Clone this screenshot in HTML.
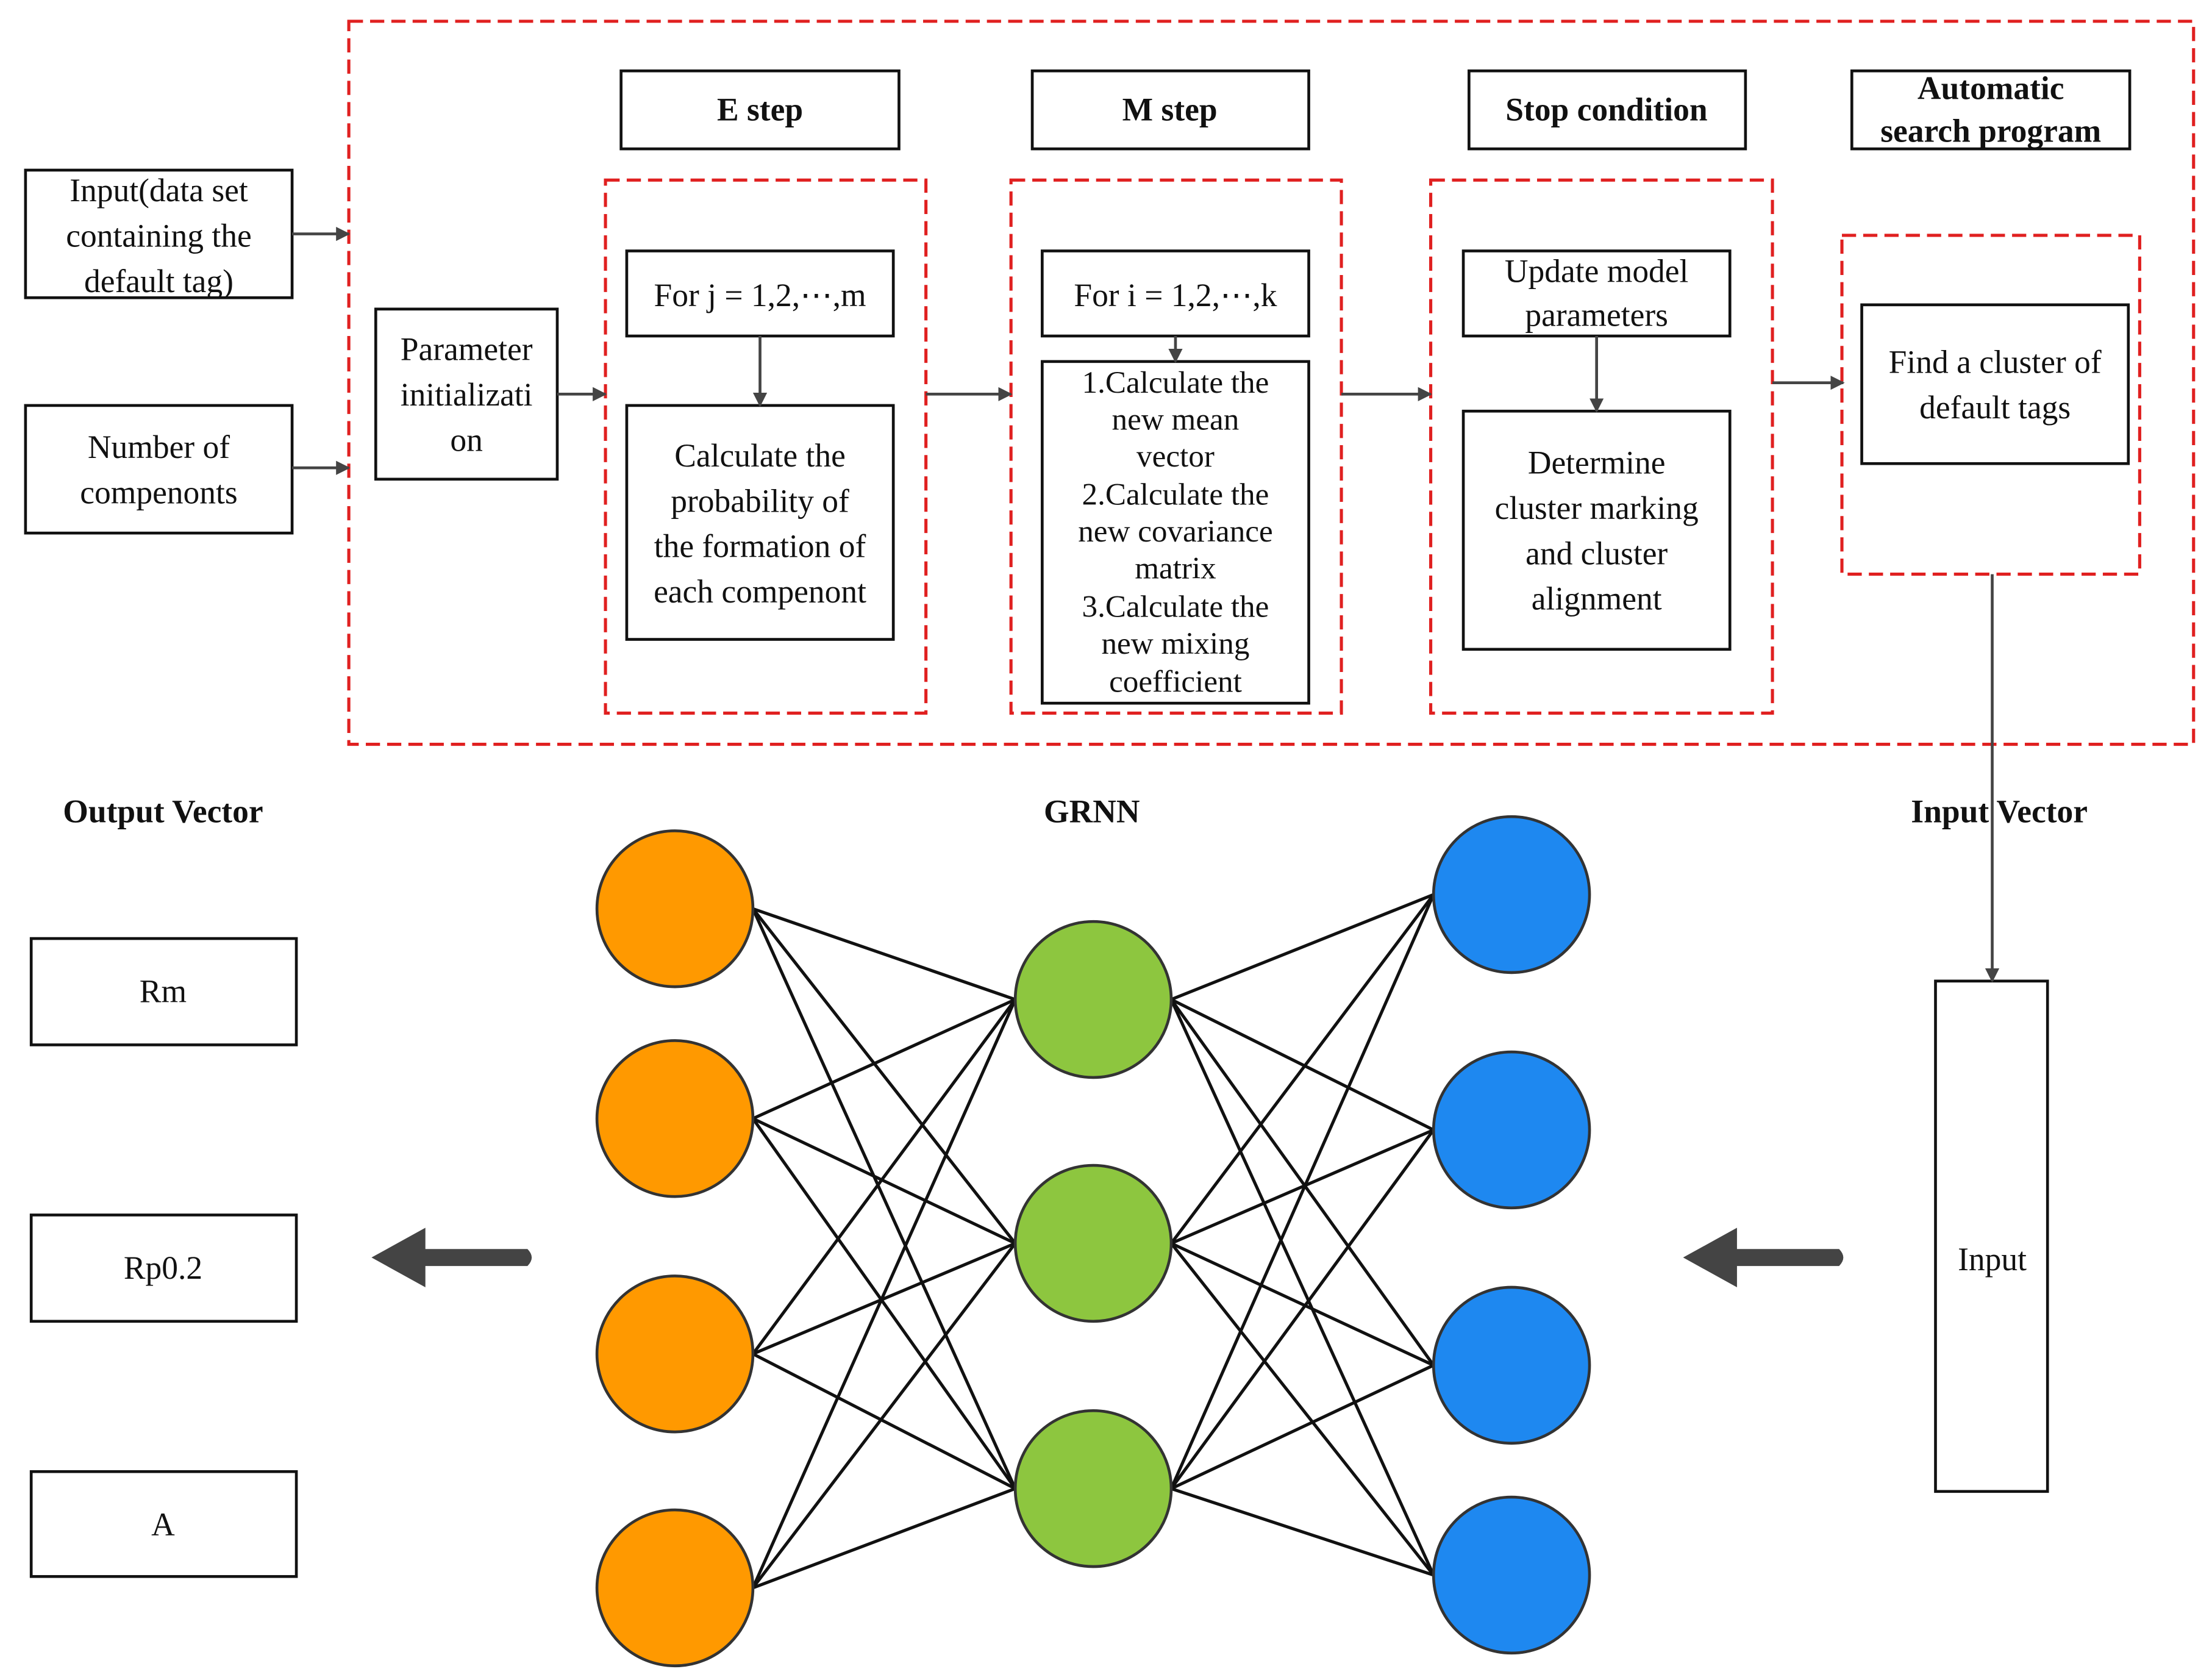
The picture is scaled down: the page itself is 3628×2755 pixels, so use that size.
<!DOCTYPE html>
<html><head><meta charset="utf-8"><style>html,body{margin:0;padding:0;background:#fff}svg{display:block}</style></head><body>
<svg width="3628" height="2755" viewBox="0 0 1560 1185" preserveAspectRatio="none" xmlns="http://www.w3.org/2000/svg" font-family="'Liberation Serif', serif">
<defs><marker id="a" markerWidth="10" markerHeight="10" refX="9" refY="5" orient="auto" markerUnits="userSpaceOnUse"><path d="M0,0 L10,5 L0,10 z" fill="#444"/></marker></defs>
<g fill="none" stroke="#e02020" stroke-width="2.2" stroke-dasharray="10,5">
<rect x="246" y="15" width="1301" height="510"/>
<rect x="427" y="127" width="226" height="376"/>
<rect x="713" y="127" width="233" height="376"/>
<rect x="1009" y="127" width="241" height="376"/>
<rect x="1299" y="166" width="210" height="239"/>
</g>
<g fill="#fff" stroke="#111" stroke-width="2">
<rect x="18" y="120" width="188" height="90"/>
<rect x="18" y="286" width="188" height="90"/>
<rect x="265" y="218" width="128" height="120"/>
<rect x="438" y="50" width="196" height="55"/>
<rect x="728" y="50" width="195" height="55"/>
<rect x="1036" y="50" width="195" height="55"/>
<rect x="1306" y="50" width="196" height="55"/>
<rect x="442" y="177" width="188" height="60"/>
<rect x="442" y="286" width="188" height="165"/>
<rect x="735" y="177" width="188" height="60"/>
<rect x="735" y="255" width="188" height="241"/>
<rect x="1032" y="177" width="188" height="60"/>
<rect x="1032" y="290" width="188" height="168"/>
<rect x="1313" y="215" width="188" height="112"/>
<rect x="1365" y="692" width="79" height="360"/>
<rect x="22" y="662" width="187" height="75"/>
<rect x="22" y="857" width="187" height="75"/>
<rect x="22" y="1038" width="187" height="74"/>
</g>
<g stroke="#444" stroke-width="2" marker-end="url(#a)">
<line x1="206" y1="165" x2="246" y2="165"/>
<line x1="206" y1="330" x2="246" y2="330"/>
<line x1="393" y1="278" x2="427" y2="278"/>
<line x1="536" y1="237" x2="536" y2="286"/>
<line x1="653" y1="278" x2="713" y2="278"/>
<line x1="829" y1="237" x2="829" y2="255"/>
<line x1="946" y1="278" x2="1009" y2="278"/>
<line x1="1126" y1="237" x2="1126" y2="290"/>
<line x1="1250" y1="270" x2="1300" y2="270"/>
<line x1="1405" y1="405" x2="1405" y2="692"/>
</g>
<g fill="#444"><path d="M372,881 L300,881 L300,866 L262,887 L300,908 L300,893 L372,893 Q378,887 372,881z"/>
<path d="M1297,881 L1225,881 L1225,866 L1187,887 L1225,908 L1225,893 L1297,893 Q1303,887 1297,881z"/></g>
<g stroke="#111" stroke-width="2.2">
<line x1="531" y1="641" x2="716" y2="705"/><line x1="531" y1="641" x2="716" y2="877"/><line x1="531" y1="641" x2="716" y2="1050"/>
<line x1="531" y1="789" x2="716" y2="705"/><line x1="531" y1="789" x2="716" y2="877"/><line x1="531" y1="789" x2="716" y2="1050"/>
<line x1="531" y1="955" x2="716" y2="705"/><line x1="531" y1="955" x2="716" y2="877"/><line x1="531" y1="955" x2="716" y2="1050"/>
<line x1="531" y1="1120" x2="716" y2="705"/><line x1="531" y1="1120" x2="716" y2="877"/><line x1="531" y1="1120" x2="716" y2="1050"/>
<line x1="826" y1="705" x2="1011" y2="631"/><line x1="826" y1="705" x2="1011" y2="797"/><line x1="826" y1="705" x2="1011" y2="963"/><line x1="826" y1="705" x2="1011" y2="1111"/>
<line x1="826" y1="877" x2="1011" y2="631"/><line x1="826" y1="877" x2="1011" y2="797"/><line x1="826" y1="877" x2="1011" y2="963"/><line x1="826" y1="877" x2="1011" y2="1111"/>
<line x1="826" y1="1050" x2="1011" y2="631"/><line x1="826" y1="1050" x2="1011" y2="797"/><line x1="826" y1="1050" x2="1011" y2="963"/><line x1="826" y1="1050" x2="1011" y2="1111"/>
</g>
<g stroke="#333" stroke-width="2">
<g fill="#ff9900"><circle cx="476" cy="641" r="55"/><circle cx="476" cy="789" r="55"/><circle cx="476" cy="955" r="55"/><circle cx="476" cy="1120" r="55"/></g>
<g fill="#8dc63f"><circle cx="771" cy="705" r="55"/><circle cx="771" cy="877" r="55"/><circle cx="771" cy="1050" r="55"/></g>
<g fill="#1e88f0"><circle cx="1066" cy="631" r="55"/><circle cx="1066" cy="797" r="55"/><circle cx="1066" cy="963" r="55"/><circle cx="1066" cy="1111" r="55"/></g>
</g>
<g font-size="23" text-anchor="middle" fill="#111">
<text x="112" y="142">Input(data set</text><text x="112" y="174">containing the</text><text x="112" y="206">default tag)</text>
<text x="112" y="323">Number of</text><text x="112" y="355">compenonts</text>
<text x="329" y="254">Parameter</text><text x="329" y="286">initializati</text><text x="329" y="318">on</text>
<text x="536" y="216">For j = 1,2,⋯,m</text>
<text x="536" y="329">Calculate the</text><text x="536" y="361">probability of</text><text x="536" y="393">the formation of</text><text x="536" y="425">each compenont</text>
<text x="829" y="216">For i = 1,2,⋯,k</text>
<g font-size="22"><text x="829" y="277">1.Calculate the</text><text x="829" y="303">new mean</text><text x="829" y="329">vector</text><text x="829" y="356">2.Calculate the</text><text x="829" y="382">new covariance</text><text x="829" y="408">matrix</text><text x="829" y="435">3.Calculate the</text><text x="829" y="461">new mixing</text><text x="829" y="488">coefficient</text></g>
<text x="1126" y="199">Update model</text><text x="1126" y="230">parameters</text>
<text x="1126" y="334">Determine</text><text x="1126" y="366">cluster marking</text><text x="1126" y="398">and cluster</text><text x="1126" y="430">alignment</text>
<text x="1407" y="263">Find a cluster of</text><text x="1407" y="295">default tags</text>
<text x="1405" y="896">Input</text>
<text x="115" y="707">Rm</text><text x="115" y="902">Rp0.2</text><text x="115" y="1083">A</text>
<g font-weight="bold"><text x="536" y="85">E step</text><text x="825" y="85">M step</text><text x="1133" y="85">Stop condition</text>
<text x="1404" y="70">Automatic</text><text x="1404" y="100">search program</text>
<text x="115" y="580">Output Vector</text><text x="770" y="580">GRNN</text><text x="1410" y="580">Input Vector</text></g>
</g>
</svg>
</body></html>
